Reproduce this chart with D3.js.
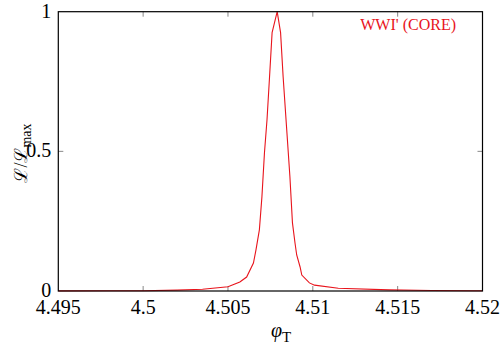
<!DOCTYPE html>
<html>
<head>
<meta charset="utf-8">
<script src="https://cdn.jsdelivr.net/npm/d3@7"></script>
<style>
  body { margin: 0; background: #fff; }
  text { font-family: "Liberation Serif", "Times New Roman", Times, "DejaVu Serif", serif; }
</style>
</head>
<body>
<div id="chart"></div>
<script>
// likelihood scan, normalised to the maximum
const phiT = [4.495, 4.498, 4.5, 4.502, 4.5035, 4.505, 4.5057, 4.5061, 4.5065, 4.50665,
  4.50685, 4.507, 4.50715, 4.5073, 4.50745, 4.5076, 4.5079, 4.5081, 4.50825, 4.50845,
  4.50865, 4.5088, 4.50895, 4.50905, 4.50925, 4.50935, 4.5098, 4.5101, 4.5115, 4.5145,
  4.517, 4.5195, 4.52];
const lRatio = [0.0005, 0.0008, 0.001, 0.003, 0.006, 0.015, 0.032, 0.05, 0.1, 0.147,
  0.219, 0.337, 0.495, 0.613, 0.767, 0.925, 1.0, 0.925, 0.767, 0.588,
  0.409, 0.244, 0.172, 0.129, 0.086, 0.057, 0.029, 0.021, 0.01, 0.004,
  0.002, 0.001, 0.0008];
const xTicks = [4.495, 4.5, 4.505, 4.51, 4.515, 4.52];
const yTicks = [0, 0.5, 1];
const seriesName = "WWI' (CORE)";

const width = 500, height = 350;
const margin = { top: 11.7, right: 17.5, bottom: 59, left: 58.3 };
const red = "#e8141c";

const svg = d3.select("#chart").append("svg")
  .attr("width", width).attr("height", height);

const x = d3.scaleLinear().domain([4.495, 4.52]).range([margin.left, width - margin.right]);
const y = d3.scaleLinear().domain([0, 1]).range([height - margin.bottom, margin.top]);

const data = phiT.map((p, i) => ({ p: p, v: lRatio[i] }));

// tick marks (inward, on all four sides)
const ticks = svg.append("g").attr("stroke", "#888").attr("stroke-width", 1);
const tl = 5;
xTicks.slice(1, -1).forEach(t => {
  ticks.append("line").attr("x1", x(t)).attr("x2", x(t)).attr("y1", y(0)).attr("y2", y(0) - tl);
  ticks.append("line").attr("x1", x(t)).attr("x2", x(t)).attr("y1", y(1)).attr("y2", y(1) + tl);
});
yTicks.slice(1, -1).forEach(t => {
  ticks.append("line").attr("x1", x.range()[0]).attr("x2", x.range()[0] + tl).attr("y1", y(t)).attr("y2", y(t));
  ticks.append("line").attr("x1", x.range()[1]).attr("x2", x.range()[1] - tl).attr("y1", y(t)).attr("y2", y(t));
});

// curve
const line = d3.line().x(d => x(d.p)).y(d => y(d.v));
svg.append("path")
  .datum(data)
  .attr("fill", "none")
  .attr("stroke", red)
  .attr("stroke-width", 1.1)
  .attr("d", line);

// frame
svg.append("rect")
  .attr("x", x.range()[0]).attr("y", y(1))
  .attr("width", x.range()[1] - x.range()[0])
  .attr("height", y(0) - y(1))
  .attr("fill", "none")
  .attr("stroke", "#000")
  .attr("stroke-width", 1.2);

// tick labels
svg.append("g").selectAll("text")
  .data(xTicks).enter().append("text")
  .attr("x", d => x(d))
  .attr("y", y(0) + 23)
  .attr("text-anchor", "middle")
  .style("font-size", "20px")
  .text(d => d3.format("")(d));

svg.append("g").selectAll("text")
  .data(yTicks).enter().append("text")
  .attr("x", x.range()[0] - 7)
  .attr("y", d => y(d))
  .attr("dy", "0.3em")
  .attr("text-anchor", "end")
  .style("font-size", "20px")
  .text(d => d);

// axis titles
const xt = svg.append("text")
  .attr("x", 281)
  .attr("y", 337)
  .attr("text-anchor", "middle")
  .style("font-size", "20px");
xt.append("tspan").style("font-style", "italic").text("φ");
xt.append("tspan").attr("dy", 5).style("font-size", "15px").text("T");

const yt = svg.append("text")
  .attr("transform", "translate(27,153) rotate(-90)")
  .attr("text-anchor", "middle")
  .style("font-size", "18px");
yt.append("tspan").text("ℒ/ℒ");
yt.append("tspan").attr("dy", 4).style("font-size", "14px").text("max");

// series label
svg.append("text")
  .attr("x", 456)
  .attr("y", 30)
  .attr("text-anchor", "end")
  .attr("fill", red)
  .style("font-size", "16px")
  .text(seriesName);
</script>
</body>
</html>
